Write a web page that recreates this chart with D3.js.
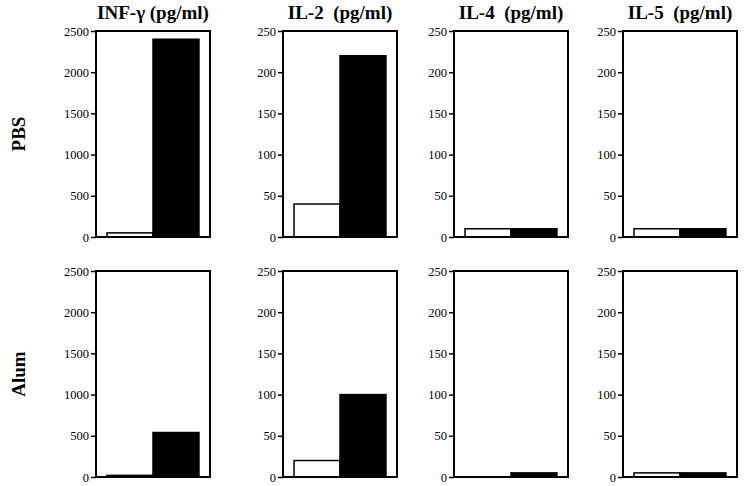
<!DOCTYPE html>
<html><head><meta charset="utf-8">
<script src="https://cdn.jsdelivr.net/npm/d3@7"></script>
<style>body{margin:0;background:#fff}svg{display:block}</style>
</head><body>
<script>
const cytokines = ["INF-γ (pg/ml)", "IL-2  (pg/ml)", "IL-4  (pg/ml)", "IL-5  (pg/ml)"];
const rows = ["PBS", "Alum"];
const groups = ["open", "filled"];
const yMax = [2500, 250, 250, 250];
const tickValues = [[0,500,1000,1500,2000,2500],[0,50,100,150,200,250],[0,50,100,150,200,250],[0,50,100,150,200,250]];
const pbsOpen = [50, 40, 10, 10];
const pbsFilled = [2400, 220, 10, 10];
const alumOpen = [20, 20, 0, 5];
const alumFilled = [540, 100, 5, 5];

const W = 748, H = 486;
const svg = d3.select("body").append("svg").attr("width", W).attr("height", H);
const font = "'Liberation Serif','Times New Roman',serif";

const panelLeft = [96, 283, 454, 623];
const panelW = 114;
const rowTop = [31, 271];
const panelH = 206;
const data = [[pbsOpen, pbsFilled], [alumOpen, alumFilled]];

rows.forEach((r, ri) => {
  svg.append("text")
    .attr("transform", `translate(25,${rowTop[ri] + panelH/2}) rotate(-90)`)
    .attr("text-anchor", "middle")
    .attr("font-family", font).attr("font-weight", "bold").attr("font-size", 19)
    .text(r);
  cytokines.forEach((c, ci) => {
    const g = svg.append("g").attr("transform", `translate(${panelLeft[ci]},${rowTop[ri]})`);
    const x = d3.scaleBand().domain(groups).range([0, panelW]).paddingInner(0).paddingOuter(0.24);
    const y = d3.scaleLinear().domain([0, yMax[ci]]).range([panelH, 0]);
    const vals = groups.map((k, gi) => ({k, v: data[ri][gi][ci]}));
    g.selectAll("rect.bar").data(vals.filter(d => d.v > 0)).join("rect")
      .attr("class", "bar")
      .attr("x", d => x(d.k)).attr("width", x.bandwidth())
      .attr("y", d => y(d.v)).attr("height", d => panelH - y(d.v))
      .attr("fill", d => d.k === "filled" ? "#000" : "#fff")
      .attr("stroke", "#000").attr("stroke-width", 1.5);
    g.append("rect").attr("x", 0).attr("y", 0).attr("width", panelW).attr("height", panelH)
      .attr("fill", "none").attr("stroke", "#000").attr("stroke-width", 2);
    const ax = g.append("g").call(d3.axisLeft(y).tickValues(tickValues[ci]).tickSize(5).tickPadding(2).tickFormat(d3.format("d")));
    ax.select(".domain").remove();
    ax.selectAll(".tick line").attr("stroke", "#000").attr("stroke-width", 1.5);
    ax.selectAll(".tick text").attr("font-family", font).attr("font-size", 12.5).attr("fill", "#000");
    if (ri === 0) {
      svg.append("text").attr("x", panelLeft[ci] + panelW/2).attr("y", 19)
        .attr("text-anchor", "middle").attr("font-family", font).attr("font-weight", "bold")
        .attr("font-size", 19).attr("xml:space", "preserve").style("white-space", "pre")
        .text(c);
    }
  });
});
</script>
</body></html>
